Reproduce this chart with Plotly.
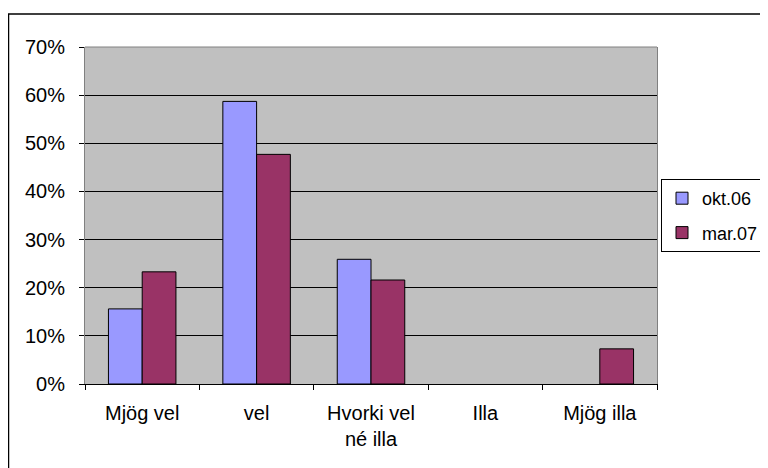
import plotly.graph_objects as go

categories = ["Mjög vel", "vel", "Hvorki vel<br>né illa", "Illa", "Mjög illa"]
okt06 = [15.6, 58.7, 25.9, 0, 0]
mar07 = [23.3, 47.7, 21.6, 0, 7.3]
series_names = ["okt.06", "mar.07"]
y_ticks = [0, 10, 20, 30, 40, 50, 60, 70]
y_tick_labels = [f"{v}%" for v in y_ticks]

W, H = 768, 468
OFF = 8  # page body margin
L, R, T, B = 85 - OFF, 657 - OFF, 47 - OFF, 384 - OFF  # plot area in figure px

FONT = dict(family="Liberation Sans, Arial, sans-serif", size=20, color="black")
LEGEND_FONT = dict(family="Liberation Sans, Arial, sans-serif", size=18, color="black")


def outline(vals):
    return [1 if v > 0 else 0 for v in vals]


fig = go.Figure()
fig.add_trace(go.Bar(x=categories, y=okt06, name=series_names[0], legendgroup="a",
                     marker=dict(color="#9999FF", line=dict(color="black", width=outline(okt06)))))
fig.add_trace(go.Bar(x=categories, y=mar07, name=series_names[1], legendgroup="b",
                     marker=dict(color="#993366", line=dict(color="black", width=outline(mar07)))))

pw, ph = R - L, B - T
def px_x(p):
    return (p - L) / pw
def px_y(p):
    return (B - p) / ph

fig.update_layout(
    width=W, height=H,
    margin=dict(l=L, r=W - R, t=T, b=H - B, pad=0, autoexpand=False),
    paper_bgcolor="white",
    plot_bgcolor="#C0C0C0",
    font=FONT,
    barmode="group",
    bargap=0.41,
    bargroupgap=0,
    showlegend=True,
    legend=dict(
        x=px_x(661 - OFF), y=px_y(179 - OFF), xanchor="left", yanchor="top",
        bordercolor="black", borderwidth=1, bgcolor="white",
        font=LEGEND_FONT, traceorder="grouped", tracegroupgap=8,
        itemwidth=30,
    ),
    xaxis=dict(
        type="category",
        showgrid=False,
        showline=True, linecolor="black", linewidth=1,
        ticks="outside", ticklen=5, tickcolor="black", tickson="boundaries",
        ticklabelstandoff=11,
        tickfont=FONT,
        fixedrange=True,
    ),
    yaxis=dict(
        range=[0, 70],
        tickvals=y_ticks, ticktext=y_tick_labels,
        showgrid=True, gridcolor="black", gridwidth=1,
        zeroline=False,
        showline=True, linecolor="#808080", linewidth=1, mirror=True,
        ticks="outside", ticklen=5, tickcolor="black",
        ticklabelstandoff=10,
        tickfont=FONT,
        fixedrange=True,
    ),
    shapes=[
        dict(type="line", xref="paper", yref="paper", x0=0, x1=1, y0=1, y1=1,
             line=dict(color="#808080", width=1)),
        dict(type="rect", xref="paper", yref="paper",
             x0=px_x(0.5), x1=px_x(W + 10), y0=px_y(14 - OFF), y1=px_y(H + 10),
             line=dict(color="black", width=1.5), fillcolor="rgba(0,0,0,0)"),
    ],
)

fig.write_html("out.html")
